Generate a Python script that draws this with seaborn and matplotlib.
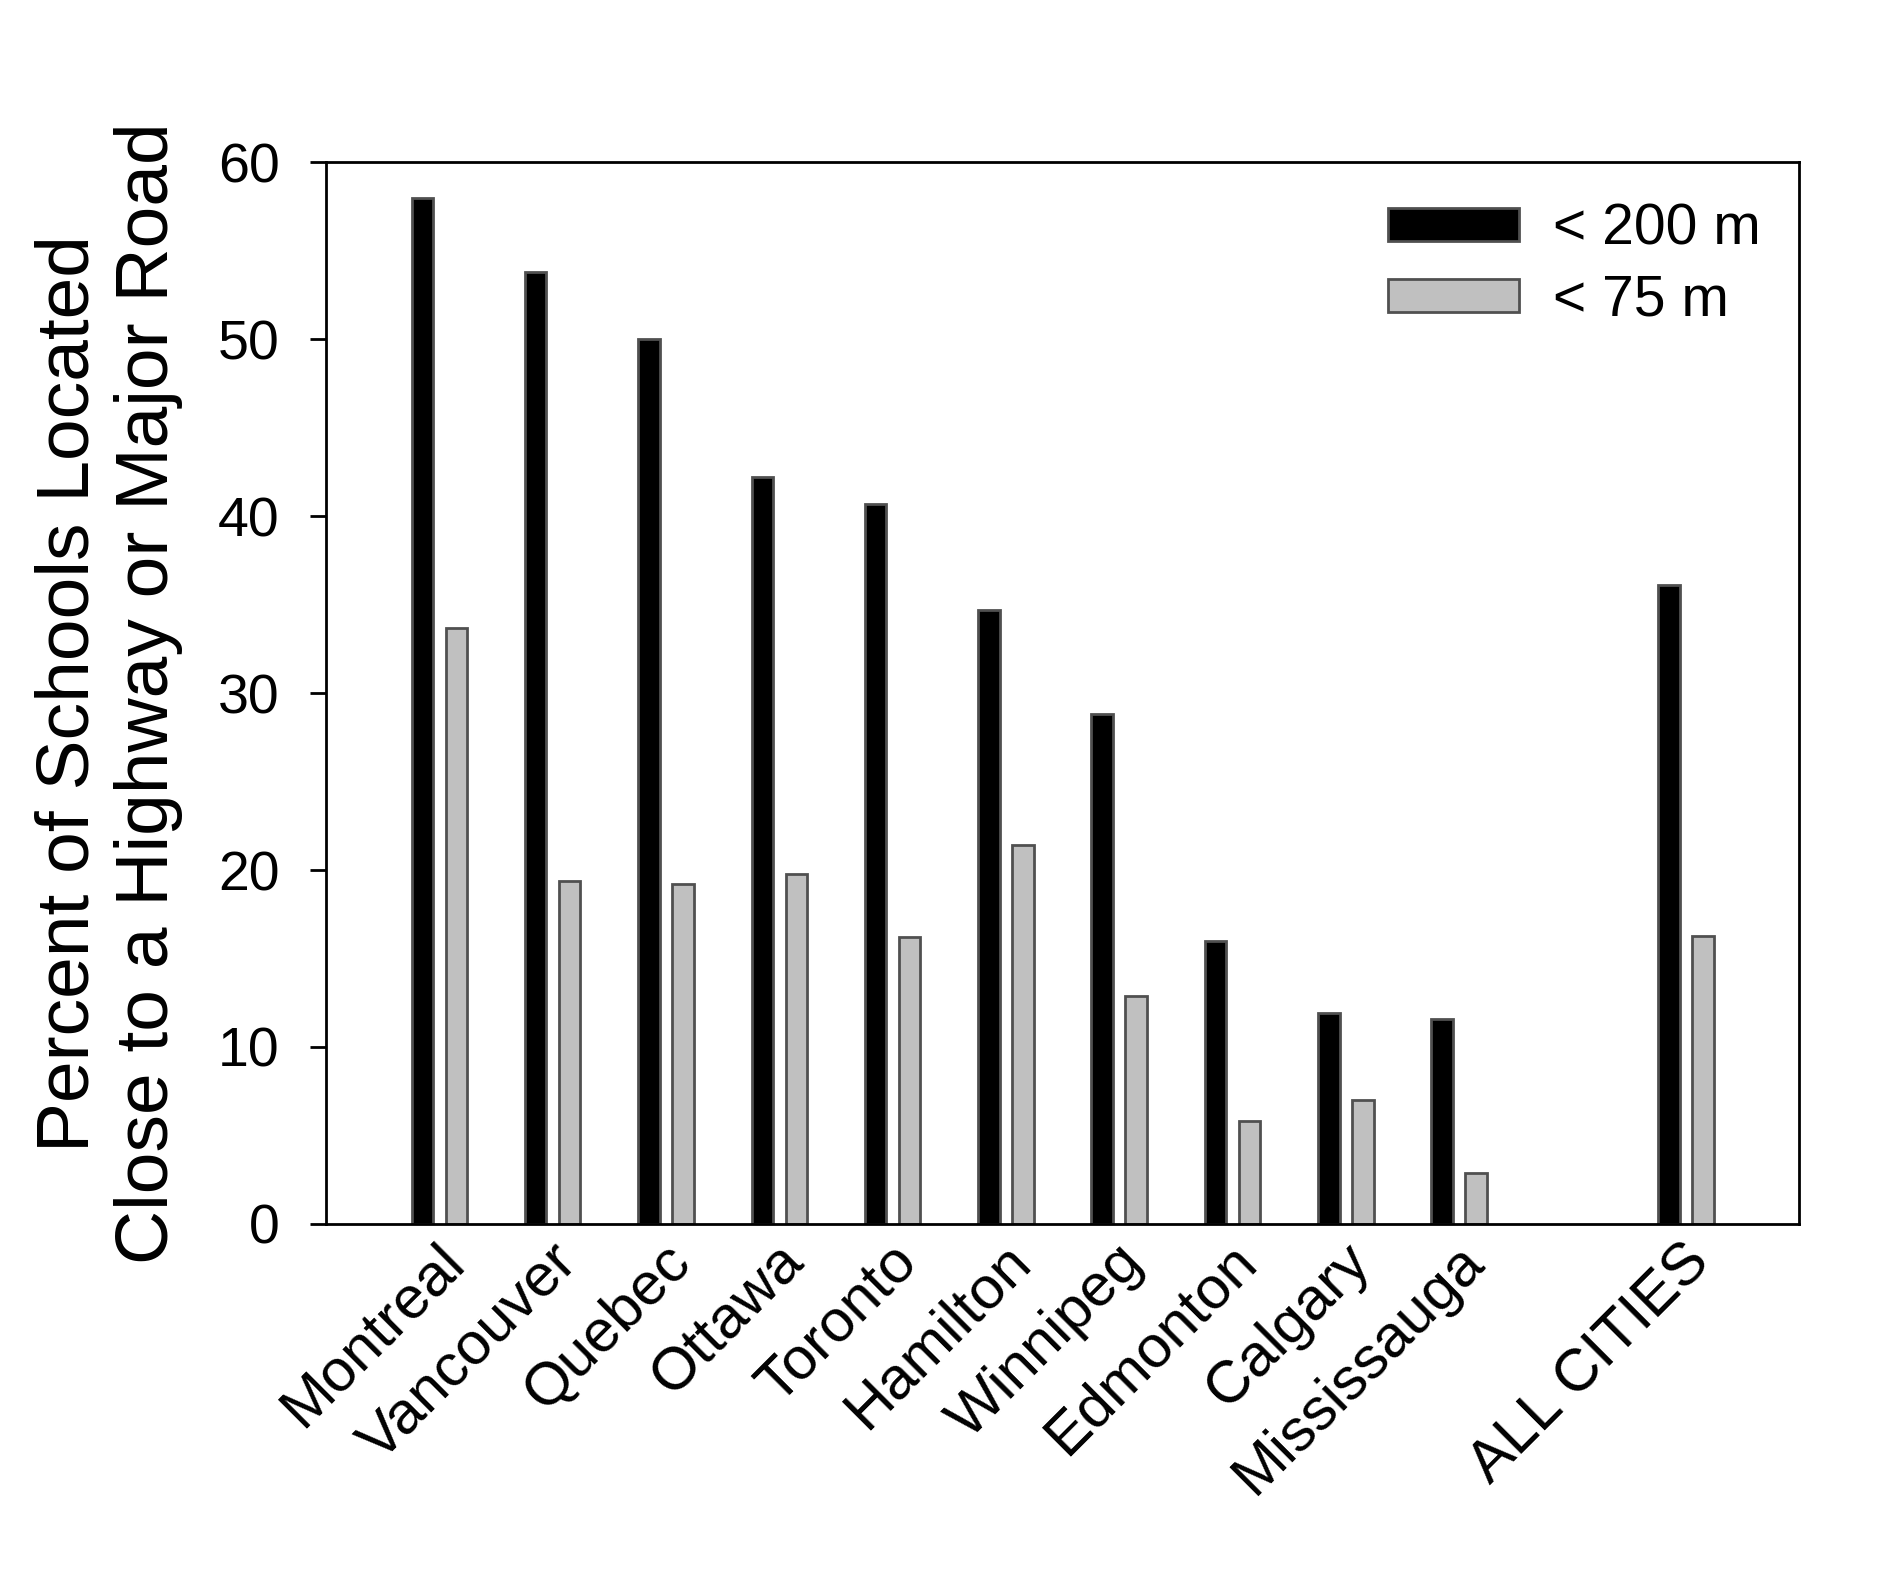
import matplotlib
matplotlib.use("Agg")
import matplotlib.pyplot as plt
import matplotlib.patches as mpatches
from matplotlib.transforms import ScaledTranslation
import seaborn as sns
import pandas as pd

# ---- data ----
cities = ["Montreal", "Vancouver", "Quebec", "Ottawa", "Toronto", "Hamilton",
          "Winnipeg", "Edmonton", "Calgary", "Mississauga", "ALL CITIES"]
within_200m = [58.0, 53.8, 50.0, 42.2, 40.7, 34.7, 28.8, 16.0, 11.9, 11.6, 36.1]
within_75m = [33.7, 19.4, 19.2, 19.8, 16.2, 21.4, 12.9, 5.8, 7.0, 2.9, 16.3]
series_names = ["< 200 m", "< 75 m"]
series_colors = ["#000000", "#c0c0c0"]
yticks = [0, 10, 20, 30, 40, 50, 60]
ylabel = "Percent of Schools Located\nClose to a Highway or Major Road"

# slot order: ten cities, one empty slot, then ALL CITIES
order = cities[:10] + [" "] + cities[10:]

df = pd.DataFrame({
    "city": cities * 2,
    "value": within_200m + within_75m,
    "dist": [series_names[0]] * len(cities) + [series_names[1]] * len(cities),
})

sns.set_style("ticks")
plt.rcParams["font.family"] = ["Liberation Sans", "DejaVu Sans"]
plt.rcParams["text.color"] = "black"
plt.rcParams["axes.labelcolor"] = "black"

fig = plt.figure(figsize=(18.86, 15.75), dpi=100)
ax = fig.add_axes([0.1729, 0.2229, 0.781, 0.6741])

sns.barplot(data=df, x="city", y="value", hue="dist", order=order,
            hue_order=series_names, palette=series_colors, width=0.6, gap=0.367,
            edgecolor="#505050", linewidth=2, errorbar=None, ax=ax)

ax.set_xlim(-1, 12)
ax.set_ylim(0, 60)
ax.set_yticks(yticks)
ax.set_yticklabels([str(t) for t in yticks])

for side in ["left", "right", "top", "bottom"]:
    ax.spines[side].set_visible(True)
    ax.spines[side].set_linewidth(2)
    ax.spines[side].set_color("black")

ax.tick_params(axis="y", direction="out", length=11.5, width=2, pad=22,
               labelsize=40, colors="black")
ax.tick_params(axis="x", length=0, pad=7, labelsize=43, colors="black")

labels = ax.get_xticklabels()
offset = ScaledTranslation(-0.04, 0, fig.dpi_scale_trans)
for lab in labels:
    lab.set_rotation(45)
    lab.set_ha("right")
    lab.set_va("top")
    lab.set_rotation_mode("anchor")
    lab.set_transform(lab.get_transform() + offset)

ax.set_xlabel("")
ax.set_ylabel(ylabel, fontsize=54, linespacing=1.2)
ax.yaxis.set_label_coords(-0.097, 0.5)

leg = ax.get_legend()
if leg is not None:
    leg.remove()
handles = [mpatches.Patch(facecolor=c, edgecolor="#505050", linewidth=2)
           for c in series_colors]
ax.legend(handles, series_names, loc="upper left", bbox_to_anchor=(0.721, 0.962),
          frameon=False, fontsize=41, borderaxespad=0, borderpad=0,
          handlelength=2.3, handleheight=0.52, handletextpad=0.59,
          labelspacing=0.3)

fig.savefig("out.png", dpi=100, facecolor="white")
